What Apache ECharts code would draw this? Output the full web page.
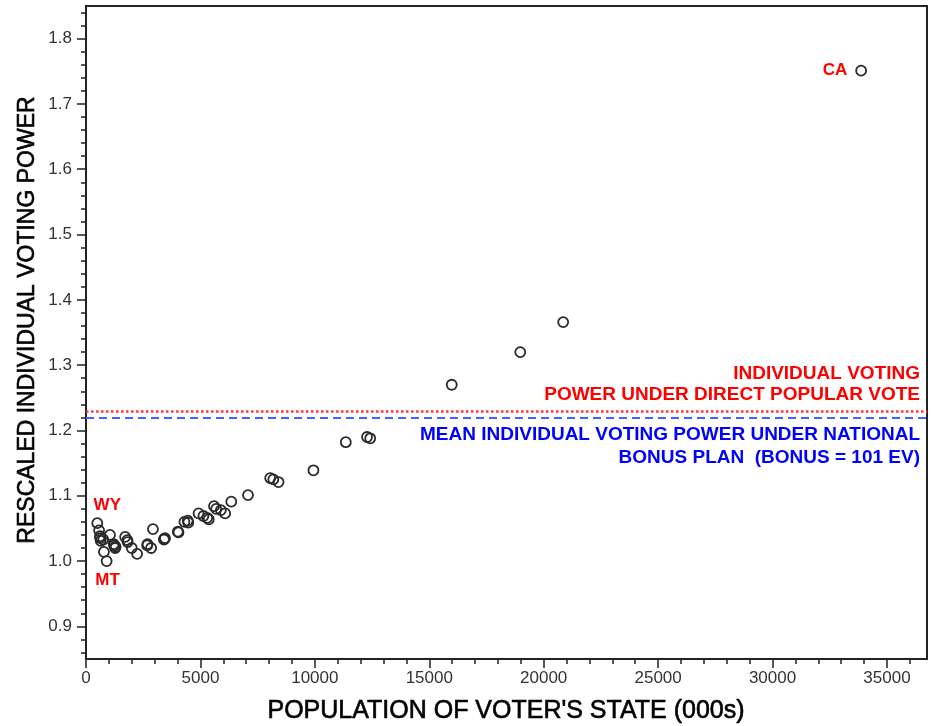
<!DOCTYPE html>
<html>
<head>
<meta charset="utf-8">
<script src="https://cdn.jsdelivr.net/npm/echarts@6/dist/echarts.min.js"></script>
<style>
  html, body { margin: 0; padding: 0; background: #ffffff; }
  #chart { width: 933px; height: 726px; }
</style>
</head>
<body>
<div id="chart"></div>
<script>
// State (and DC) populations in thousands, with rescaled individual voting power
const states = ['WY','DC','VT','AK','ND','SD','DE','MT','RI','HI','NH','ME','ID','NE','WV','NM','NV','UT',
  'AR','KS','MS','IA','CT','OR','OK','SC','KY','CO','AL','LA','MN','AZ','MD','WI','MO','TN','WA','IN',
  'MA','VA','NC','GA','NJ','MI','OH','PA','IL','FL','NY','TX','CA'];
const population = [494,572,609,627,642,755,784,902,1048,1212,1236,1275,1294,1711,1808,1819,1998,2233,
  2673,2688,2845,2926,3406,3421,3451,4012,4042,4301,4447,4469,4919,5131,5296,5364,5595,5689,5894,6080,
  6349,7079,8049,8186,8414,9938,11353,12281,12419,15982,18976,20852,33872];
const votingPower = [1.058,1.047,1.038,1.035,1.031,1.033,1.014,1.000,1.040,1.026,1.024,1.020,1.022,1.037,1.032,1.029,1.020,1.011,
  1.024,1.026,1.020,1.049,1.033,1.034,1.035,1.045,1.044,1.060,1.062,1.059,1.073,1.069,1.066,1.064,1.084,1.080,1.078,1.073,
  1.091,1.101,1.127,1.125,1.121,1.139,1.182,1.190,1.188,1.270,1.320,1.366,1.751];

// Reference levels
const directPopularVote = 1.225;
const bonusPlanMean = 1.215;

// Axis ticks
const xTicks = [0, 5000, 10000, 15000, 20000, 25000, 30000, 35000];
const xMinorTicks = [1000,2000,3000,4000,6000,7000,8000,9000,11000,12000,13000,14000,16000,17000,18000,19000,
  21000,22000,23000,24000,26000,27000,28000,29000,31000,32000,33000,34000,36000];
const yTicks = [0.9, 1.0, 1.1, 1.2, 1.3, 1.4, 1.5, 1.6, 1.7, 1.8];
const yMinorTicks = [0.86,0.88,0.92,0.94,0.96,0.98,1.02,1.04,1.06,1.08,1.12,1.14,1.16,1.18,1.22,1.24,1.26,1.28,
  1.32,1.34,1.36,1.38,1.42,1.44,1.46,1.48,1.52,1.54,1.56,1.58,1.62,1.64,1.66,1.68,1.72,1.74,1.76,1.78,1.82,1.84];
const xRange = [0, 36750];
const yRange = [0.85, 1.85];

const labelFont = 'Liberation Sans, Arial, sans-serif';
const axisColor = '#222';

// Which states get a red name tag, and where it sits
const taggedStates = {
  CA: { position: 'left', distance: 8, offset: [0, 0] },
  WY: { position: 'top', distance: 3, offset: [10, 0] },
  MT: { position: 'bottom', distance: 5, offset: [1, 0] }
};

const points = states.map((s, i) => {
  const item = { name: s, value: [population[i], votingPower[i]] };
  const tag = taggedStates[s];
  if (tag) {
    item.label = Object.assign({
      show: true,
      formatter: s,
      color: '#ff0000',
      fontFamily: labelFont,
      fontWeight: 'bold',
      fontSize: 17
    }, tag);
  }
  return item;
});

const chart = echarts.init(document.getElementById('chart'), null, { renderer: 'canvas' });

const option = {
  backgroundColor: '#ffffff',
  animation: false,
  grid: {
    left: 86, right: 6, top: 6, bottom: 67,
    show: true, borderColor: axisColor, borderWidth: 2, backgroundColor: 'transparent'
  },
  xAxis: [
    {
      type: 'value', position: 'bottom', min: xRange[0], max: xRange[1],
      axisLine: { show: true, lineStyle: { color: axisColor, width: 2 } },
      axisTick: { show: true, length: 9, customValues: xTicks, lineStyle: { color: axisColor, width: 1.5 } },
      axisLabel: {
        show: true, customValues: xTicks, margin: 11, color: '#333', fontSize: 17, fontFamily: labelFont,
        formatter: v => String(v)
      },
      splitLine: { show: false }
    },
    {
      type: 'value', position: 'bottom', min: xRange[0], max: xRange[1],
      axisLine: { show: false },
      axisTick: { show: true, length: 5, customValues: xMinorTicks, lineStyle: { color: axisColor, width: 1.5 } },
      axisLabel: { show: false },
      splitLine: { show: false }
    }
  ],
  yAxis: [
    {
      type: 'value', position: 'left', min: yRange[0], max: yRange[1],
      axisLine: { show: true, lineStyle: { color: axisColor, width: 2 } },
      axisTick: { show: true, length: 9, customValues: yTicks, lineStyle: { color: axisColor, width: 1.5 } },
      axisLabel: {
        show: true, customValues: yTicks, margin: 14, color: '#333', fontSize: 17, fontFamily: labelFont,
        formatter: v => v.toFixed(1)
      },
      splitLine: { show: false }
    },
    {
      type: 'value', position: 'left', min: yRange[0], max: yRange[1],
      axisLine: { show: false },
      axisTick: { show: true, length: 5, customValues: yMinorTicks, lineStyle: { color: axisColor, width: 1.5 } },
      axisLabel: { show: false },
      splitLine: { show: false }
    }
  ],
  graphic: [
    {
      type: 'text', x: 28, y: 320, rotation: Math.PI / 2,
      style: {
        text: 'RESCALED INDIVIDUAL VOTING POWER',
        font: '23px ' + labelFont, fill: '#000', stroke: '#000', lineWidth: 0.6,
        textAlign: 'center', textVerticalAlign: 'middle'
      }
    },
    {
      type: 'text', x: 506, y: 711,
      style: {
        text: "POPULATION OF VOTER'S STATE (000s)",
        font: '25px ' + labelFont, fill: '#000', stroke: '#000', lineWidth: 0.6,
        textAlign: 'center', textVerticalAlign: 'middle'
      }
    }
  ],
  series: [
    {
      type: 'scatter',
      xAxisIndex: 0, yAxisIndex: 0,
      symbol: 'circle', symbolSize: 10,
      itemStyle: { color: 'rgba(255,255,255,0)', borderColor: '#2a2a2a', borderWidth: 1.8, opacity: 1 },
      data: points,
      z: 3,
      markLine: {
        silent: true,
        symbol: 'none',
        animation: false,
        data: [
          {
            yAxis: directPopularVote,
            lineStyle: { color: '#ff3535', type: [2.5, 2.5], width: 2.5 },
            label: {
              show: true, position: 'insideEndTop', distance: [7, 6],
              formatter: 'INDIVIDUAL VOTING\nPOWER UNDER DIRECT POPULAR VOTE',
              color: '#ff0000', fontFamily: labelFont, fontWeight: 'bold', fontSize: 19, lineHeight: 21,
              align: 'right'
            }
          },
          {
            yAxis: bonusPlanMean,
            lineStyle: { color: '#4062ff', type: [8, 5], width: 2 },
            label: {
              show: true, position: 'insideEndBottom', distance: [7, 6],
              formatter: 'MEAN INDIVIDUAL VOTING POWER UNDER NATIONAL\nBONUS PLAN  (BONUS = 101 EV)',
              color: '#0000ff', fontFamily: labelFont, fontWeight: 'bold', fontSize: 19, lineHeight: 23,
              align: 'right'
            }
          }
        ]
      }
    }
  ]
};

chart.setOption(option);
</script>
</body>
</html>
